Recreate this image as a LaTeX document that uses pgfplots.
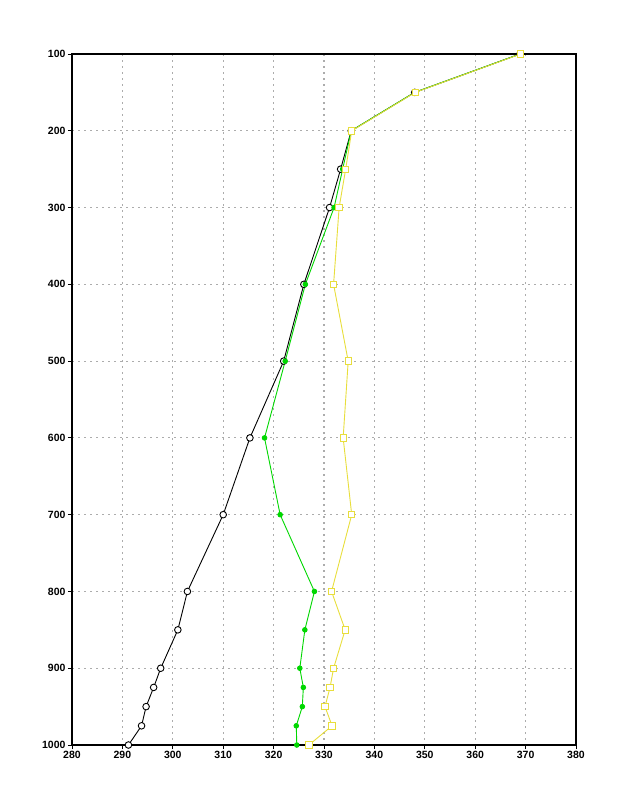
\documentclass[border=0pt]{standalone}
\usepackage{fontspec}
\setmainfont{Liberation Sans}
\usepackage{pgfplots}
\pgfplotsset{compat=1.18}

\definecolor{lgreen}{RGB}{0,215,0}
\definecolor{lyellow}{RGB}{232,222,60}

\begin{document}
\begin{tikzpicture}
\begin{axis}[
    scale only axis,
    width=504pt, height=691pt,
    xmin=280, xmax=380,
    ymin=100, ymax=1000,
    y dir=reverse,
    xtick={280,290,...,380},
    ytick={100,200,...,1000},
    xtick pos=bottom, ytick pos=left,
    tick align=outside,
    major tick length=4pt,
    tick style={black, line width=0.8pt},
    grid=major,
    grid style={gray!65, line width=1.2pt, dash pattern=on 1.5pt off 4.5pt},
    axis line style={black, line width=1.6pt},
    tick label style={font=\fontsize{10.5}{12}\selectfont\bfseries},
    /pgf/number format/assume math mode=true,
    /pgf/number format/1000 sep={},
    xticklabel style={yshift=1pt},
    yticklabel style={xshift=1pt},
  ]
  % black: open circles
  \addplot[black, line width=0.9pt, mark=*, mark size=3.3pt,
           mark options={fill=white, draw=black, line width=0.9pt}]
  coordinates {
    (368.9,100) (348.0,150) (335.4,200) (333.3,250) (331.1,300)
    (326.0,400) (322.0,500) (315.3,600) (310.0,700) (302.9,800)
    (301.0,850) (297.6,900) (296.2,925) (294.7,950) (293.8,975) (291.2,1000)
  };
  % green: filled dots
  \addplot[lgreen, line width=0.9pt, mark=*, mark size=2.3pt,
           mark options={fill=lgreen, draw=lgreen}]
  coordinates {
    (368.9,100) (348.0,150) (335.4,200) (333.7,250) (332.0,300)
    (326.3,400) (322.3,500) (318.2,600) (321.3,700) (328.1,800)
    (326.2,850) (325.2,900) (325.9,925) (325.7,950) (324.5,975) (324.6,1000)
  };
  % yellow: open squares
  \addplot[lyellow, line width=0.9pt, mark=square*, mark size=3.2pt,
           mark options={fill=white, draw=lyellow, line width=0.9pt}]
  coordinates {
    (369.0,100) (348.1,150) (335.5,200) (334.3,250) (333.0,300)
    (331.9,400) (334.8,500) (333.8,600) (335.5,700) (331.5,800)
    (334.2,850) (331.9,900) (331.2,925) (330.2,950) (331.6,975) (327.0,1000)
  };
\end{axis}
\path[use as bounding box] ([xshift=-72pt,yshift=-55pt]current axis.south west) rectangle ([xshift=42pt,yshift=54pt]current axis.north east);
\end{tikzpicture}
\end{document}
